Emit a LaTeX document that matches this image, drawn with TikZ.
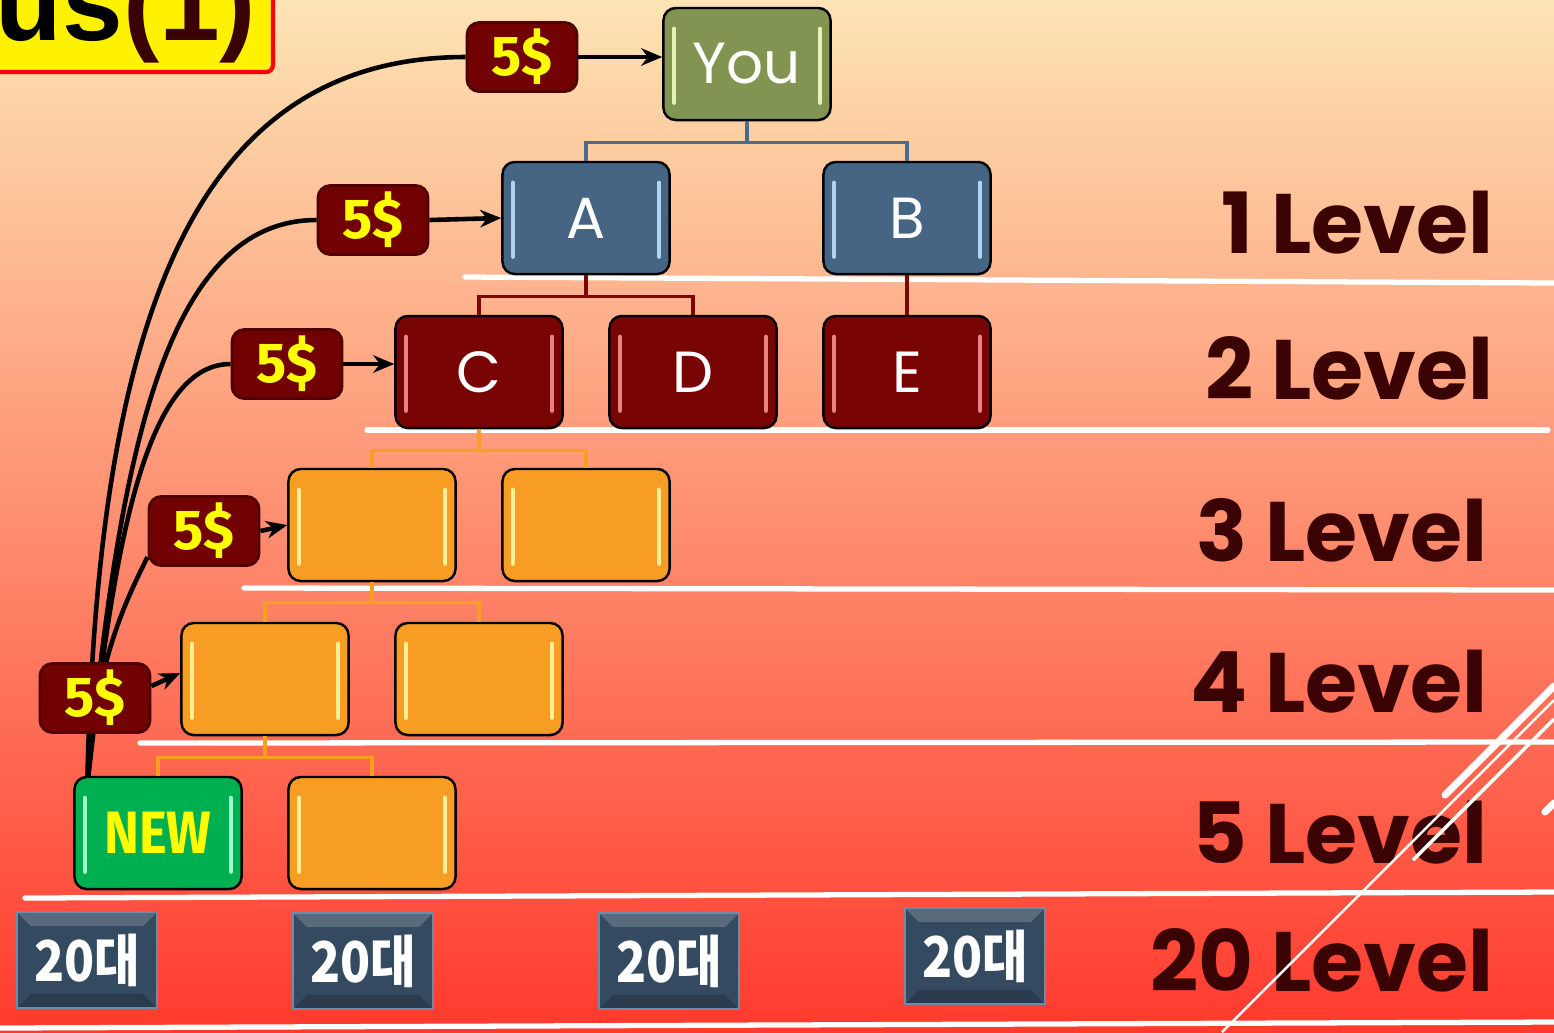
\documentclass[tikz,border=0pt]{standalone}
\usepackage{fontspec}
\usepackage{graphicx}
\setmainfont{Poppins}
\newfontfamily\moneyfont{Fira Sans}
\newfontfamily\titlefont{Liberation Sans}
\newfontfamily\krfont{Noto Sans CJK KR}
\usetikzlibrary{arrows.meta, positioning, calc}

\definecolor{bgtop}{RGB}{253, 228, 180}
\definecolor{bgmid}{RGB}{255, 158, 118}
\definecolor{bgbot}{RGB}{255, 58, 45}
\definecolor{youfill}{RGB}{130, 148, 82}
\definecolor{youshine}{RGB}{232, 242, 180}
\definecolor{bossblue}{RGB}{70, 101, 130}
\definecolor{blueshine}{RGB}{175, 212, 240}
\definecolor{downred}{RGB}{120, 4, 4}
\definecolor{redshine}{RGB}{235, 130, 130}
\definecolor{leaforange}{RGB}{247, 157, 35}
\definecolor{orangeshine}{RGB}{255, 238, 150}
\definecolor{newgreen}{RGB}{0, 176, 80}
\definecolor{greenshine}{RGB}{160, 255, 205}
\definecolor{moneyred}{RGB}{114, 2, 2}
\definecolor{moneyedge}{RGB}{80, 0, 0}
\definecolor{moneyyellow}{RGB}{255, 255, 0}
\definecolor{ageslate}{RGB}{52, 74, 96}
\definecolor{ageedge}{RGB}{110, 140, 170}
\definecolor{levelbrown}{RGB}{58, 2, 2}
\definecolor{linkblue}{RGB}{72, 108, 142}
\definecolor{linkred}{RGB}{125, 5, 5}
\definecolor{linkorange}{RGB}{245, 160, 30}

\pgfdeclarelayer{bg}
\pgfdeclarelayer{links}
\pgfsetlayers{bg,links,main}

\begin{document}
\begin{tikzpicture}[x=0.01cm, y=-0.01cm,
  orgbox/.style={draw=black, line width=0.7pt, rounded corners=3.5pt,
    minimum width=1.67cm, minimum height=1.12cm, inner sep=0pt,
    text=white, font=\fontsize{16.5}{18}\selectfont,
    path picture={
      \draw[#1, line width=1.4pt, line cap=round]
        ([xshift=3pt, yshift=-6pt]path picture bounding box.north west) -- ([xshift=3pt, yshift=5pt]path picture bounding box.south west)
        ([xshift=-3pt, yshift=-6pt]path picture bounding box.north east) -- ([xshift=-3pt, yshift=5pt]path picture bounding box.south east);
    }},
  youbox/.style={orgbox=youshine, fill=youfill},
  bluebox/.style={orgbox=blueshine, fill=bossblue},
  redbox/.style={orgbox=redshine, fill=downred},
  orangebox/.style={orgbox=orangeshine, fill=leaforange},
  newbox/.style={orgbox=greenshine, fill=newgreen, text=moneyyellow,
    font=\moneyfont\bfseries\fontsize{17}{18}\selectfont},
  moneybox/.style={fill=moneyred, draw=moneyedge, line width=0.8pt, rounded corners=3.5pt,
    minimum width=1.10cm, minimum height=0.69cm, inner sep=0pt, text=moneyyellow,
    font=\moneyfont\bfseries\fontsize{16}{18}\selectfont},
  agebox/.style={fill=ageslate, draw=ageedge, line width=0.5pt,
    minimum width=1.40cm, minimum height=0.96cm, inner sep=0pt, text=white,
    font=\krfont\bfseries\fontsize{16}{18}\selectfont,
    path picture={
      \fill[white, opacity=0.18] (path picture bounding box.north west) -- (path picture bounding box.north east)
        -- ([xshift=-4pt, yshift=-4pt]path picture bounding box.north east) -- ([xshift=4pt, yshift=-4pt]path picture bounding box.north west) -- cycle;
      \fill[black, opacity=0.2] (path picture bounding box.south west) -- (path picture bounding box.south east)
        -- ([xshift=-4pt, yshift=4pt]path picture bounding box.south east) -- ([xshift=4pt, yshift=4pt]path picture bounding box.south west) -- cycle;
    }},
  wire/.style={black, line width=1.3pt},
  payarrow/.style={black, line width=1.3pt, -{Stealth[length=6pt, width=5pt]}},
  treelink/.style={line width=0.9pt},
  divider/.style={white, line width=1.5pt, line cap=round},
  levellabel/.style={anchor=base east, inner sep=0pt, text=levelbrown,
    font=\bfseries\fontsize{24}{26}\selectfont}]

  \useasboundingbox (0,0) rectangle (1554,1032);
  \begin{pgfonlayer}{bg}
    \shade[top color=bgtop, middle color=bgmid, bottom color=bgbot] (0,0) rectangle (1554,1032);
  \end{pgfonlayer}

  % Title
  \draw[fill=yellow, draw=red, line width=1.2pt, rounded corners=2pt] (-20,-20) rectangle (273,72);
  \node[anchor=base east, inner sep=0pt, font=\titlefont\bfseries\fontsize{31}{31}\selectfont] (title) at (257,40) {us\textcolor{levelbrown}{(1)}};

  % Level dividers
  \draw[divider] (465,277) -- (1554,283);
  \draw[divider] (367,430) -- (1548,430);
  \draw[divider] (244,588) -- (1554,590);
  \draw[divider] (140,743) -- (1554,742);
  \draw[divider] (25,898) -- (1554,892);
  \draw[divider] (0,1028) -- (1554,1022);

  % Org chart
  \node[youbox] (you) at (747,64) {You};
  \node[bluebox] (a) at (586,218) {A};
  \node[bluebox] (b) at (907,218) {B};
  \node[redbox] (c) at (479,372) {C};
  \node[redbox] (d) at (693,372) {D};
  \node[redbox] (e) at (907,372) {E};
  \node[orangebox] (c1) at (372,525) {};
  \node[orangebox] (c2) at (586,525) {};
  \node[orangebox] (g1) at (265,679) {};
  \node[orangebox] (g2) at (479,679) {};
  \node[newbox] (new) at (158,833) {\scalebox{0.88}[1]{NEW}};
  \node[orangebox] (h2) at (372,833) {};

  \draw[treelink, linkblue] (you.south) -- ++(0,21) -| (a.north);
  \draw[treelink, linkblue] (you.south) -- ++(0,21) -| (b.north);
  \draw[treelink, linkred] (a.south) -- ++(0,21) -| (c.north);
  \draw[treelink, linkred] (a.south) -- ++(0,21) -| (d.north);
  \draw[treelink, linkred] (b.south) -- (e.north);
  \draw[treelink, linkorange] (c.south) -- ++(0,21) -| (c1.north);
  \draw[treelink, linkorange] (c.south) -- ++(0,21) -| (c2.north);
  \draw[treelink, linkorange] (c1.south) -- ++(0,20) -| (g1.north);
  \draw[treelink, linkorange] (c1.south) -- ++(0,20) -| (g2.north);
  \draw[treelink, linkorange] (g1.south) -- ++(0,21) -| (new.north);
  \draw[treelink, linkorange] (g1.south) -- ++(0,21) -| (h2.north);

  % Money flow
  \node[moneybox] (m1) at (522,57) {5\$};
  \node[moneybox] (m2) at (373,220) {5\$};
  \node[moneybox] (m3) at (287,364) {5\$};
  \node[moneybox] (m4) at (204,531) {5\$};
  \node[moneybox] (m5) at (95,698) {5\$};

  \coordinate (src) at ($(new.north west)+(14,10)$);
  \begin{pgfonlayer}{links}
    \draw[wire] (src) .. controls +(10,-450) and +(-280,0) .. (m1.west);
    \draw[wire] (src) .. controls +(30,-300) and +(-160,0) .. (m2.west);
    \draw[wire] (src) .. controls +(25,-220) and +(-90,0) .. (m3.west);
    \draw[wire] (src) .. controls +(8,-120) and +(-25,50) .. ($(m4.south west)+(0,-10)$);
  \end{pgfonlayer}

  \draw[payarrow] (m1.east) -- (m1.east -| you.west);
  \draw[payarrow] (m2.east) -- (a.west);
  \draw[payarrow] (m3.east) -- (m3.east -| c.west);
  \draw[payarrow] (m4.east) -- (c1.west);
  \draw[payarrow] ($(m5.east)+(0,-12)$) -- ($(g1.west)+(0,-6)$);

  % Levels
  \node[levellabel] (lv1) at (1494,253) {1 Level};
  \node[levellabel] (lv2) at (1494,399) {2 Level};
  \node[levellabel] (lv3) at (1488,561) {3 Level};
  \node[levellabel] (lv4) at (1488,712) {4 Level};
  \node[levellabel] (lv5) at (1488,863) {5 Level};
  \node[levellabel] (lv20) at (1494,991) {20 Level};

  % Age boxes
  \node[agebox] (age1) at (87,960) {\scalebox{0.88}[1]{20대}};
  \node[agebox] (age2) at (363,961) {\scalebox{0.88}[1]{20대}};
  \node[agebox] (age3) at (669,961) {\scalebox{0.88}[1]{20대}};
  \node[agebox] (age4) at (975,956) {\scalebox{0.88}[1]{20대}};

  % Streaks
  \draw[white, line width=2pt, line cap=round] (1445,795) -- (1554,686);
  \draw[white, line width=0.7pt] (1222,1032) -- (1554,700);
  \draw[white, line width=1pt] (1413,860) -- (1554,719);
  \draw[white, line width=2pt, line cap=round] (1545,812) -- (1554,803);
\end{tikzpicture}
\end{document}
